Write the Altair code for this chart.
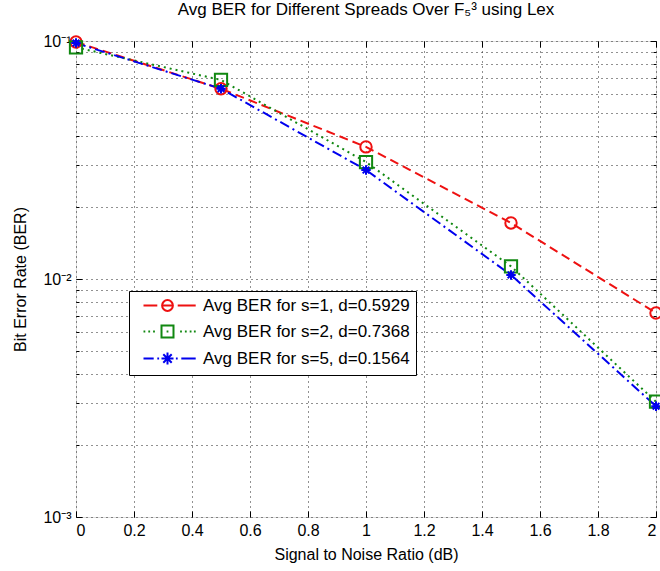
import altair as alt
import pandas as pd

# ---- data ----
snr = [0.0, 0.5, 1.0, 1.5, 2.0]
ber_s1 = [0.0990, 0.0630, 0.0359, 0.0172, 0.0072]
ber_s2 = [0.0940, 0.0686, 0.0310, 0.0113, 0.00305]
ber_s5 = [0.0980, 0.0630, 0.0287, 0.0104, 0.00292]
series_labels = ["Avg BER for s=1, d=0.5929",
                 "Avg BER for s=2, d=0.7368",
                 "Avg BER for s=5, d=0.1564"]
x_ticks = [0, 0.2, 0.4, 0.6, 0.8, 1.0, 1.2, 1.4, 1.6, 1.8, 2.0]
y_major = [0.001, 0.01, 0.1]
y_major_labels = ["10⁻³", "10⁻²", "10⁻¹"]
y_minor = [0.002, 0.003, 0.004, 0.005, 0.006, 0.007, 0.008, 0.009,
           0.02, 0.03, 0.04, 0.05, 0.06, 0.07, 0.08, 0.09]

# ---- styling ----
W, H = 580, 476
FONT = "Liberation Sans"
FS = 16
colors = ["#ee1111", "#118811", "#0000ee"]
dashes = [[9, 5], [2, 4], [10, 4, 2, 4]]
marker_shapes = ["circle", "square",
                 "M-1,0H1M0,-1V1M-0.7,-0.7L0.7,0.7M-0.7,0.7L0.7,-0.7"]
marker_sizes = [130, 150, 90]
legend_paths = [
    "M0,0H2.3M3.1,0H4.9M5.7,0H8.7M4.9,0A0.9,0.9,0,1,1,3.1,0A0.9,0.9,0,1,1,4.9,0",
    "M0,0H0.3M0.8,0H1.1M1.6,0H1.9M3.85,0H4.15M6.1,0H6.4M6.9,0H7.2M7.7,0H8M8.4,0H8.7"
    "M3,-1H5V1H3Z",
    "M0,0H1.7M2.3,0H2.6M3,0H5M4,-1V1M3.3,-0.7L4.7,0.7M3.3,0.7L4.7,-0.7"
    "M5.4,0H5.7M6.3,0H8.7",
]

rows = []
for lab, vals in zip(series_labels, [ber_s1, ber_s2, ber_s5]):
    for s, b in zip(snr, vals):
        rows.append({"snr": s, "ber": b, "series": lab})
df = pd.DataFrame(rows)

xscale = alt.Scale(domain=[0, 2], nice=False, zero=False)
yscale = alt.Scale(type="log", domain=[0.001, 0.1], nice=False)

base = alt.Chart(df)


def helper(xaxis, yaxis):
    return base.mark_point(opacity=0).encode(
        x=alt.X("snr:Q", scale=xscale, axis=xaxis),
        y=alt.Y("ber:Q", scale=yscale, axis=yaxis),
    )


label_expr = " : ".join(
    f"datum.value < {v * 1.5} ? '{t}'" for v, t in zip(y_major[:-1], y_major_labels[:-1])
) + f" : '{y_major_labels[-1]}'"

grid_layer = helper(
    alt.Axis(orient="bottom", values=x_ticks, grid=True, gridDash=[1, 4],
             gridColor="#222", labels=False, ticks=False, domain=False, title=None),
    alt.Axis(orient="left", values=y_major + y_minor, grid=True, gridDash=[1, 4],
             gridColor="#222", labels=False, ticks=False, domain=False, title=None),
)
label_layer = helper(
    alt.Axis(orient="bottom", values=x_ticks, format="~g", ticks=False, domain=False,
             labelFont=FONT, labelFontSize=FS, labelColor="black", labelPadding=5,
             title="Signal to Noise Ratio (dB)", titleFont=FONT, titleFontSize=FS,
             titleFontWeight="normal", titleColor="black", titlePadding=8, grid=False),
    alt.Axis(orient="left", values=y_major, labelExpr=label_expr, ticks=False,
             domain=False, labelFont=FONT, labelFontSize=FS, labelColor="black",
             labelPadding=5, title="Bit Error Rate (BER)", titleFont=FONT,
             titleFontSize=FS, titleFontWeight="normal", titleColor="black",
             titlePadding=14, grid=False),
)


def tick_axis(orient, values, size):
    return alt.Axis(orient=orient, offset=-(H if orient in ("top", "bottom") else W),
                    values=values, ticks=True, tickSize=size, tickColor="black",
                    labels=False, domain=False, grid=False, title=None)


tick_layer1 = helper(tick_axis("top", x_ticks, 6), tick_axis("right", y_major, 6))
tick_layer2 = helper(tick_axis("bottom", x_ticks, 6), tick_axis("right", y_minor, 3))
tick_layer3 = helper(None, tick_axis("left", y_major, 6))
tick_layer4 = helper(None, tick_axis("left", y_minor, 3))

data_layers = []
for i, lab in enumerate(series_labels):
    sub = base.transform_filter(alt.datum.series == lab)
    data_layers.append(
        sub.mark_line(color=colors[i], strokeDash=dashes[i], strokeWidth=2).encode(
            x=alt.X("snr:Q", scale=xscale, axis=None),
            y=alt.Y("ber:Q", scale=yscale, axis=None),
        )
    )
for i, lab in enumerate(series_labels):
    sub = base.transform_filter(alt.datum.series == lab)
    data_layers.append(
        sub.mark_point(color=colors[i], shape=marker_shapes[i], size=marker_sizes[i],
                       filled=False, strokeWidth=2, opacity=1).encode(
            x=alt.X("snr:Q", scale=xscale, axis=None),
            y=alt.Y("ber:Q", scale=yscale, axis=None),
        )
    )

leg = alt.Legend(title=None, orient="none", legendX=53, legendY=250,
                 strokeColor="black", fillColor="white", padding=6,
                 symbolSize=144, symbolStrokeWidth=2, symbolOpacity=1,
                 labelFont=FONT, labelFontSize=17, labelColor="black", labelLimit=400,
                 labelOffset=51, rowPadding=6)
legend_layer = base.mark_point(filled=False, opacity=0, size=144).encode(
    x=alt.X("snr:Q", scale=xscale, axis=None),
    y=alt.Y("ber:Q", scale=yscale, axis=None),
    color=alt.Color("series:N", scale=alt.Scale(domain=series_labels, range=colors),
                    legend=leg),
    shape=alt.Shape("series:N", scale=alt.Scale(domain=series_labels, range=legend_paths),
                    legend=leg),
)

chart = alt.layer(
    grid_layer, label_layer, *data_layers, legend_layer,
    tick_layer1, tick_layer2, tick_layer3, tick_layer4,
).resolve_axis(x="independent", y="independent").properties(
    width=W, height=H,
    title=alt.Title("Avg BER for Different Spreads Over F₅³ using Lex",
                    font=FONT, fontSize=17, fontWeight="normal", color="black",
                    anchor="middle", frame="group", baseline="alphabetic", offset=0),
    autosize=alt.AutoSizeParams(type="none"),
    padding={"left": 76, "top": 41, "right": 4, "bottom": 54},
).configure_view(stroke="black", strokeWidth=1).configure(background="white")

chart.save("out.html", embed_options={"renderer": "svg", "actions": False})
